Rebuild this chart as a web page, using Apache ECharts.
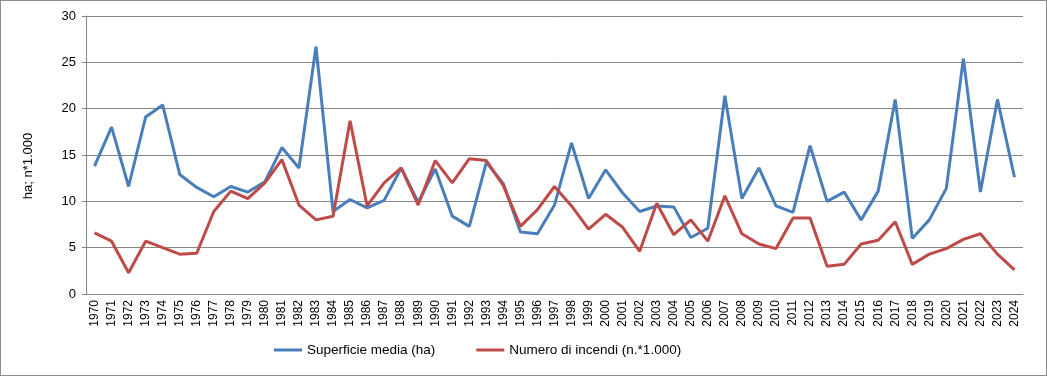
<!DOCTYPE html>
<html><head><meta charset="utf-8">
<script src="https://cdn.jsdelivr.net/npm/echarts@6/dist/echarts.min.js"></script>
<style>
html,body{margin:0;padding:0;background:#fff;}
#wrap{position:absolute;left:0;top:0;width:1045px;height:374px;border:1px solid #8c8c8c;}
#chart{width:1045px;height:374px;}
</style></head>
<body><div id="wrap"><div id="chart"></div></div>
<script>
const years = ['1970','1971','1972','1973','1974','1975','1976','1977','1978','1979','1980','1981','1982','1983','1984','1985','1986','1987','1988','1989','1990','1991','1992','1993','1994','1995','1996','1997','1998','1999','2000','2001','2002','2003','2004','2005','2006','2007','2008','2009','2010','2011','2012','2013','2014','2015','2016','2017','2018','2019','2020','2021','2022','2023','2024'];
const superficie = [13.8,18.0,11.6,19.1,20.4,12.9,11.5,10.5,11.6,11.0,12.1,15.8,13.6,26.7,8.9,10.2,9.3,10.1,13.6,9.9,13.5,8.4,7.3,14.2,11.9,6.7,6.5,9.6,16.3,10.3,13.4,10.9,8.9,9.5,9.4,6.1,7.1,21.4,10.3,13.6,9.5,8.8,16.0,10.0,11.0,8.0,11.1,21.0,6.0,8.0,11.4,25.4,11.0,21.0,12.6];
const incendi = [6.6,5.7,2.3,5.7,5.0,4.3,4.4,8.9,11.1,10.3,12.0,14.5,9.6,8.0,8.4,18.7,9.5,12.0,13.6,9.6,14.4,12.0,14.6,14.4,11.7,7.3,9.1,11.6,9.5,7.0,8.6,7.2,4.6,9.8,6.4,8.0,5.7,10.6,6.5,5.4,4.9,8.2,8.2,3.0,3.2,5.4,5.8,7.8,3.2,4.3,4.9,5.9,6.5,4.3,2.6];
const seriesNames = ['Superficie media (ha)','Numero di incendi (n.*1.000)'];
const yTicks = {min:0,max:30,interval:5};
const yName = 'ha; n*1.000';

const chart = echarts.init(document.getElementById('chart'));
const font = 'Liberation Sans, Arial, sans-serif';
chart.setOption({
  animation:false,
  textStyle:{fontFamily:font},
  grid:{left:85,right:23,top:15,bottom:81,containLabel:false},
  legend:{
    bottom:13,left:268,
    data:seriesNames,
    icon:'rect',itemWidth:28,itemHeight:3,itemGap:41,
    textStyle:{fontFamily:font,fontSize:13.5,color:'#000'}
  },
  xAxis:{
    type:'category',data:years,boundaryGap:true,
    axisLine:{lineStyle:{color:'#868686',width:1}},
    axisTick:{show:false},
    axisLabel:{rotate:90,interval:0,fontSize:12,color:'#000',fontFamily:font,margin:6}
  },
  yAxis:{
    type:'value',min:yTicks.min,max:yTicks.max,interval:yTicks.interval,
    name:yName,nameLocation:'middle',nameGap:51,nameRotate:90,
    nameTextStyle:{fontSize:13,color:'#000',fontFamily:font,padding:[0,22,0,0]},
    axisLine:{show:true,lineStyle:{color:'#868686'}},
    axisTick:{show:true,length:4,lineStyle:{color:'#868686'}},
    axisLabel:{fontSize:13,color:'#000',fontFamily:font,margin:10},
    splitLine:{lineStyle:{color:'#868686',width:1}}
  },
  series:[
    {name:seriesNames[0],type:'line',data:superficie,symbol:'none',
     lineStyle:{color:'#4a7ebb',width:3},itemStyle:{color:'#4a7ebb'}},
    {name:seriesNames[1],type:'line',data:incendi,symbol:'none',
     lineStyle:{color:'#be4b48',width:3},itemStyle:{color:'#be4b48'}}
  ]
});
</script></body></html>
